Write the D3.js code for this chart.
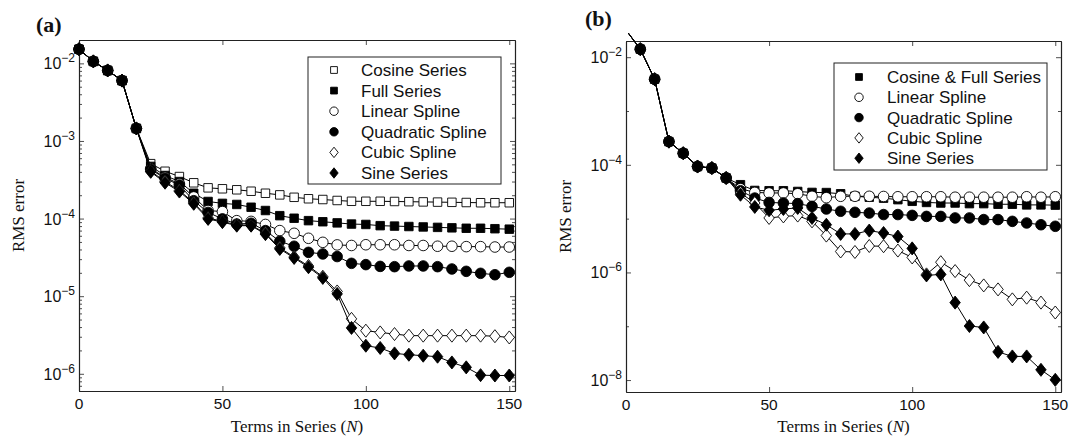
<!DOCTYPE html>
<html>
<head>
<meta charset="utf-8">
<script src="https://cdn.jsdelivr.net/npm/d3@7"></script>
<style>
body { margin: 0; background: #fff; }
</style>
</head>
<body>
<svg id="chart" width="1076" height="441"></svg>
<script>
// number of terms in the series (x values, both panels)
var terms = [0, 5, 10, 15, 20, 25, 30, 35, 40, 45, 50, 55, 60, 65, 70, 75, 80, 85, 90, 95, 100, 105, 110, 115, 120, 125, 130, 135, 140, 145, 150];

// panel (a) RMS error
var cosineA = [0.0152, 0.0106, 0.0081, 0.0060, 0.00145, 5.1e-4, 4.07e-4, 3.48e-4, 2.89e-4, 2.49e-4, 2.42e-4, 2.35e-4, 2.25e-4, 2.12e-4, 2.02e-4, 1.88e-4, 1.80e-4, 1.76e-4, 1.71e-4, 1.67e-4, 1.67e-4, 1.67e-4, 1.66e-4, 1.65e-4, 1.64e-4, 1.63e-4, 1.62e-4, 1.61e-4, 1.60e-4, 1.60e-4, 1.60e-4];
var fullA = [0.0152, 0.0106, 0.0081, 0.0060, 0.00145, 4.7e-4, 3.59e-4, 3.0e-4, 2.12e-4, 1.66e-4, 1.57e-4, 1.52e-4, 1.40e-4, 1.27e-4, 1.09e-4, 1.01e-4, 9.4e-5, 9.1e-5, 8.8e-5, 8.5e-5, 8.4e-5, 8.1e-5, 8.0e-5, 7.9e-5, 7.8e-5, 7.7e-5, 7.6e-5, 7.5e-5, 7.5e-5, 7.4e-5, 7.3e-5];
var linearA = [0.0152, 0.0106, 0.0081, 0.0060, 0.00145, 4.4e-4, 3.4e-4, 2.8e-4, 1.9e-4, 1.27e-4, 1.23e-4, 9.4e-5, 9.2e-5, 8.4e-5, 7.0e-5, 6.46e-5, 5.57e-5, 4.94e-5, 4.58e-5, 4.5e-5, 4.6e-5, 4.6e-5, 4.6e-5, 4.5e-5, 4.5e-5, 4.4e-5, 4.4e-5, 4.35e-5, 4.35e-5, 4.3e-5, 4.3e-5];
var quadA = [0.0152, 0.0106, 0.0081, 0.0060, 0.00145, 4.3e-4, 3.3e-4, 2.7e-4, 1.7e-4, 1.2e-4, 9.9e-5, 8.5e-5, 8.7e-5, 7.0e-5, 5.1e-5, 4.4e-5, 3.67e-5, 3.5e-5, 3.24e-5, 2.65e-5, 2.55e-5, 2.42e-5, 2.4e-5, 2.45e-5, 2.45e-5, 2.4e-5, 2.24e-5, 2.09e-5, 1.97e-5, 1.89e-5, 2.03e-5];
var cubicA = [0.0152, 0.0106, 0.0081, 0.0060, 0.00145, 4.1e-4, 3.0e-4, 2.3e-4, 1.6e-4, 1.02e-4, 9.2e-5, 8.3e-5, 8.2e-5, 6.5e-5, 4.2e-5, 3.2e-5, 2.45e-5, 1.78e-5, 1.15e-5, 5.1e-6, 3.59e-6, 3.41e-6, 3.25e-6, 3.1e-6, 3.1e-6, 3.1e-6, 3.1e-6, 3.1e-6, 3.1e-6, 3.05e-6, 2.94e-6];
var sineA = [0.0152, 0.0106, 0.0081, 0.0060, 0.00145, 4.0e-4, 2.9e-4, 2.23e-4, 1.55e-4, 9.9e-5, 9.0e-5, 8.1e-5, 8.1e-5, 6.3e-5, 4.06e-5, 3.11e-5, 2.36e-5, 1.72e-5, 1.07e-5, 3.9e-6, 2.3e-6, 2.15e-6, 1.83e-6, 1.76e-6, 1.71e-6, 1.66e-6, 1.40e-6, 1.21e-6, 9.6e-7, 9.5e-7, 9.5e-7];

// panel (b) RMS error (the x=0 value lies above the axes)
var cosFullB = [0.032, 0.0141, 0.0039, 2.7e-4, 1.64e-4, 9.3e-5, 8.7e-5, 5.7e-5, 4.27e-5, 3.34e-5, 3.3e-5, 3.3e-5, 3.2e-5, 3.07e-5, 3.05e-5, 2.9e-5, 2.6e-5, 2.5e-5, 2.4e-5, 2.25e-5, 2.1e-5, 2.0e-5, 1.95e-5, 1.95e-5, 1.9e-5, 1.9e-5, 1.85e-5, 1.85e-5, 1.8e-5, 1.8e-5, 1.78e-5];
var linearB = [0.032, 0.0141, 0.0039, 2.7e-4, 1.64e-4, 9.3e-5, 8.7e-5, 5.7e-5, 3.6e-5, 3.07e-5, 3.0e-5, 3.0e-5, 2.9e-5, 2.6e-5, 2.45e-5, 2.6e-5, 2.6e-5, 2.6e-5, 2.58e-5, 2.55e-5, 2.55e-5, 2.55e-5, 2.55e-5, 2.5e-5, 2.5e-5, 2.5e-5, 2.5e-5, 2.5e-5, 2.55e-5, 2.5e-5, 2.55e-5];
var quadB = [0.032, 0.0141, 0.0039, 2.7e-4, 1.64e-4, 9.3e-5, 8.7e-5, 5.7e-5, 3.3e-5, 2.41e-5, 2.0e-5, 1.95e-5, 1.9e-5, 1.69e-5, 1.51e-5, 1.37e-5, 1.31e-5, 1.27e-5, 1.19e-5, 1.19e-5, 1.15e-5, 1.1e-5, 1.1e-5, 1.03e-5, 1.03e-5, 9.6e-6, 9.6e-6, 8.9e-6, 8.3e-6, 7.7e-6, 7.2e-6];
var cubicB = [0.032, 0.0141, 0.0039, 2.7e-4, 1.64e-4, 9.3e-5, 8.7e-5, 5.7e-5, 3.0e-5, 1.95e-5, 1.03e-5, 1.1e-5, 1.14e-5, 8.9e-6, 4.84e-6, 2.45e-6, 2.4e-6, 3.1e-6, 3.07e-6, 2.55e-6, 1.9e-6, 9.2e-7, 1.55e-6, 1.06e-6, 7.2e-7, 5.74e-7, 4.84e-7, 3.16e-7, 3.4e-7, 2.75e-7, 1.8e-7];
var sineB = [0.032, 0.0141, 0.0039, 2.7e-4, 1.64e-4, 9.3e-5, 8.7e-5, 5.7e-5, 2.78e-5, 1.65e-5, 1.43e-5, 1.51e-5, 1.58e-5, 1.03e-5, 7.7e-6, 5.2e-6, 5.2e-6, 6.0e-6, 5.4e-6, 4.65e-6, 2.8e-6, 8.8e-7, 9.2e-7, 2.75e-7, 1.01e-7, 9.5e-8, 3.34e-8, 2.75e-8, 2.75e-8, 1.55e-8, 1.01e-8];

// tick labels
var xTicks = [0, 50, 100, 150];
var yTicksA = [-2, -3, -4, -5, -6];
var yTicksB = [-2, -4, -6, -8];
var minorExpB = [-3, -5, -7];

var svg = d3.select("#chart");

// MATLAB style diamond, a bit wider than d3's one
var diamondType = {
    draw: function(context, size) {
        var hh = Math.sqrt(size) / 2, hw = hh * 0.8;
        context.moveTo(0, -hh);
        context.lineTo(hw, 0);
        context.lineTo(0, hh);
        context.lineTo(-hw, 0);
        context.closePath();
    }
};
var squareType = {
    draw: function(context, size) {
        var h = Math.sqrt(size) / 2;
        context.rect(-h, -h, 2 * h, 2 * h);
    }
};

function marker(shape, scale) {
    scale = scale || 1;
    if (shape == "square") return d3.symbol().type(squareType).size(72 * scale * scale)();
    if (shape == "circle") return d3.symbol().type(d3.symbolCircle).size(88 * scale * scale)();
    return d3.symbol().type(diamondType).size(170 * scale * scale)();
}

function drawPanel(p) {
    var g = svg.append("g");

    var x = d3.scaleLinear().domain([0, 152]).range([p.left, p.right]);
    var y = d3.scaleLog().domain(p.yDomain).range([p.bottom, p.top]);

    // minor y ticks
    var minors = [];
    if (p.minorExp) {
        p.minorExp.forEach(function(e) { minors.push(Math.pow(10, e)); });
    } else {
        for (var e = -7; e <= -2; e++) {
            for (var k = 2; k <= 9; k++) {
                var v = k * Math.pow(10, e);
                if (v >= p.yDomain[0] && v <= p.yDomain[1]) minors.push(v);
            }
        }
    }
    var majors = p.yTicks.map(function(e) { return Math.pow(10, e); });

    // axes: ticks point inwards, box on
    g.append("g")
        .attr("transform", "translate(0," + p.bottom + ")")
        .call(d3.axisBottom(x).tickValues(xTicks).tickSize(-5).tickSizeOuter(0).tickFormat(""));
    g.append("g")
        .attr("transform", "translate(0," + p.top + ")")
        .call(d3.axisTop(x).tickValues(xTicks).tickSize(-5).tickSizeOuter(0).tickFormat(""));
    g.append("g")
        .attr("transform", "translate(" + p.left + ",0)")
        .call(d3.axisLeft(y).tickValues(majors).tickSize(-5).tickSizeOuter(0).tickFormat(""));
    g.append("g")
        .attr("transform", "translate(" + p.right + ",0)")
        .call(d3.axisRight(y).tickValues(majors).tickSize(-5).tickSizeOuter(0).tickFormat(""));
    g.append("g")
        .attr("transform", "translate(" + p.left + ",0)")
        .call(d3.axisLeft(y).tickValues(minors).tickSize(-3).tickSizeOuter(0).tickFormat(""));
    g.append("g")
        .attr("transform", "translate(" + p.right + ",0)")
        .call(d3.axisRight(y).tickValues(minors).tickSize(-3).tickSizeOuter(0).tickFormat(""));

    g.selectAll(".domain").attr("stroke", "#222").attr("stroke-width", 1.1);
    g.selectAll(".tick line").attr("stroke", "#222").attr("stroke-width", 0.8);

    // x tick labels
    g.selectAll(".xlab")
        .data(xTicks)
        .enter()
        .append("text")
        .attr("x", function(d) { return x(d); })
        .attr("y", p.bottom + 18)
        .attr("text-anchor", "middle")
        .attr("font-family", "Liberation Sans, Arial, sans-serif")
        .attr("font-size", "15.5px")
        .attr("fill", "#111")
        .text(function(d) { return d; });

    // y tick labels 10^-n
    var yl = g.selectAll(".ylab")
        .data(p.yTicks)
        .enter()
        .append("text")
        .attr("x", p.left - 4)
        .attr("y", function(d) { return y(Math.pow(10, d)) + 6; })
        .attr("text-anchor", "end")
        .attr("font-family", "Liberation Sans, Arial, sans-serif")
        .attr("font-size", "16px")
        .attr("fill", "#111");
    yl.append("tspan").text("10");
    yl.append("tspan")
        .attr("dy", -7)
        .attr("font-size", "12px")
        .text(function(d) { return "\u2212" + (-d); });

    // axis titles
    var xt = g.append("text")
        .attr("x", (p.left + p.right) / 2)
        .attr("y", 432)
        .attr("text-anchor", "middle")
        .attr("font-family", "Liberation Serif, Times New Roman, serif")
        .attr("font-size", "17px")
        .attr("fill", "#111");
    xt.append("tspan").text("Terms in Series (");
    xt.append("tspan").attr("font-style", "italic").text("N");
    xt.append("tspan").text(")");

    g.append("text")
        .attr("transform", "translate(" + p.yTitleX + "," + (p.top + p.bottom) / 2 + ") rotate(-90)")
        .attr("text-anchor", "middle")
        .attr("font-family", "Liberation Serif, Times New Roman, serif")
        .attr("font-size", "17px")
        .attr("fill", "#111")
        .text("RMS error");

    // panel letter
    g.append("text")
        .attr("x", p.letterX)
        .attr("y", p.letterY)
        .attr("font-family", "Liberation Serif, Times New Roman, serif")
        .attr("font-size", "22px")
        .attr("font-weight", "bold")
        .attr("fill", "#111")
        .text(p.letter);

    // clip for the lines (a bit of room above the box, as in the original)
    g.append("clipPath")
        .attr("id", "clip" + p.letter.charAt(1))
        .append("rect")
        .attr("x", p.left)
        .attr("y", p.top - p.clipExtra)
        .attr("width", p.right - p.left)
        .attr("height", p.bottom - p.top + p.clipExtra);

    var line = d3.line()
        .x(function(d) { return x(d[0]); })
        .y(function(d) { return y(d[1]); });

    p.series.forEach(function(s) {
        var pts = terms.map(function(t, i) { return [t, s.values[i]]; });

        g.append("path")
            .datum(pts)
            .attr("d", line)
            .attr("fill", "none")
            .attr("stroke", "#000")
            .attr("stroke-width", 1)
            .attr("clip-path", "url(#clip" + p.letter.charAt(1) + ")");

        g.selectAll(null)
            .data(pts.filter(function(d) { return d[1] <= p.yDomain[1]; }))
            .enter()
            .append("path")
            .attr("d", marker(s.shape))
            .attr("transform", function(d) { return "translate(" + x(d[0]) + "," + y(d[1]) + ")"; })
            .attr("fill", s.filled ? "#000" : "#fff")
            .attr("stroke", "#000")
            .attr("stroke-width", 0.9);
    });

    // legend
    var lg = p.legend;
    g.append("rect")
        .attr("x", lg.x)
        .attr("y", lg.y)
        .attr("width", lg.w)
        .attr("height", lg.h)
        .attr("fill", "#fff")
        .attr("stroke", "#222")
        .attr("stroke-width", 1);

    p.series.forEach(function(s, i) {
        var cy = lg.y + lg.first + i * lg.step;
        g.append("path")
            .attr("d", marker(s.shape, 0.8))
            .attr("transform", "translate(" + lg.markerX + "," + cy + ")")
            .attr("fill", s.filled ? "#000" : "#fff")
            .attr("stroke", "#000")
            .attr("stroke-width", 0.9);
        g.append("text")
            .attr("x", lg.textX)
            .attr("y", cy + 6)
            .attr("font-family", "Liberation Sans, Arial, sans-serif")
            .attr("font-size", "17px")
            .attr("fill", "#111")
            .text(s.name);
    });
}

drawPanel({
    letter: "(a)", letterX: 36, letterY: 32,
    left: 79, right: 515, top: 40, bottom: 391,
    yDomain: [6e-7, 2e-2], yTicks: yTicksA, minorExp: null,
    yTitleX: 24, clipExtra: 0,
    series: [
        {name: "Cosine Series", values: cosineA, shape: "square", filled: false},
        {name: "Full Series", values: fullA, shape: "square", filled: true},
        {name: "Linear Spline", values: linearA, shape: "circle", filled: false},
        {name: "Quadratic Spline", values: quadA, shape: "circle", filled: true},
        {name: "Cubic Spline", values: cubicA, shape: "diamond", filled: false},
        {name: "Sine Series", values: sineA, shape: "diamond", filled: true}
    ],
    legend: {x: 308, y: 57, w: 193, h: 127, first: 13, step: 20.6, markerX: 334, textX: 361}
});

drawPanel({
    letter: "(b)", letterX: 585, letterY: 26,
    left: 626, right: 1061, top: 41, bottom: 392,
    yDomain: [6e-9, 2e-2], yTicks: yTicksB, minorExp: minorExpB,
    yTitleX: 571, clipExtra: 8,
    series: [
        {name: "Cosine & Full Series", values: cosFullB, shape: "square", filled: true},
        {name: "Linear Spline", values: linearB, shape: "circle", filled: false},
        {name: "Quadratic Spline", values: quadB, shape: "circle", filled: true},
        {name: "Cubic Spline", values: cubicB, shape: "diamond", filled: false},
        {name: "Sine Series", values: sineB, shape: "diamond", filled: true}
    ],
    legend: {x: 834, y: 63, w: 213, h: 107, first: 14, step: 20.3, markerX: 859, textX: 887}
});
</script>
</body>
</html>
